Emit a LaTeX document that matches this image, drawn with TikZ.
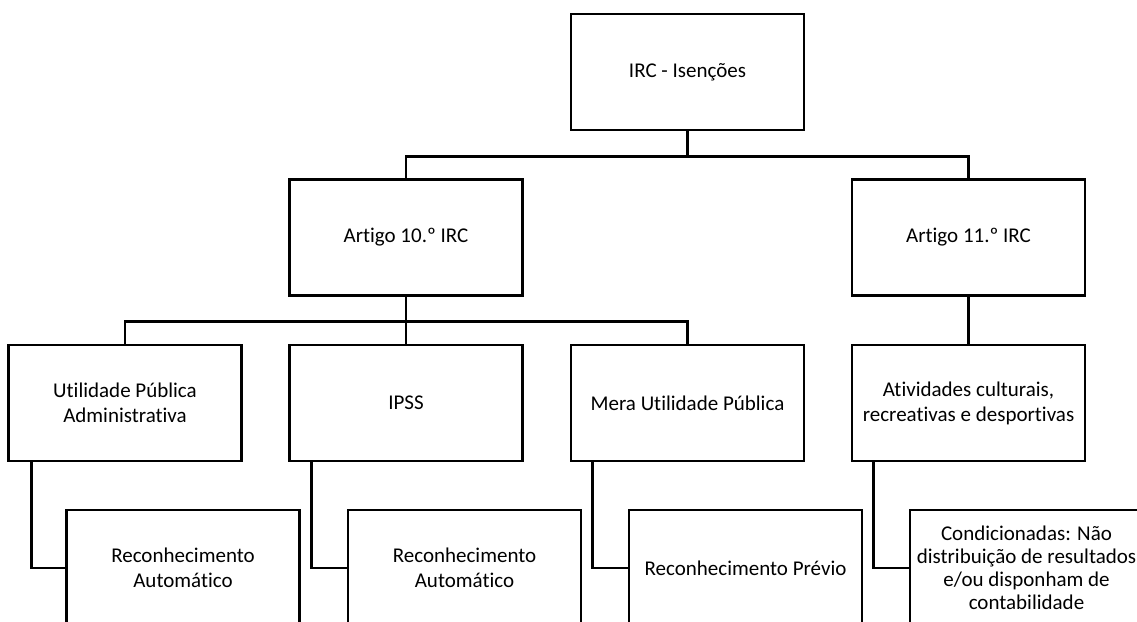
\documentclass[tikz,border=0pt]{standalone}
\usepackage{fontspec}
\setmainfont[Ligatures=NoCommon]{Carlito}
\begin{document}
\begin{tikzpicture}[x=1pt,y=-1pt,
  box/.style={draw=black,line width=2.8pt,fill=white,minimum width=233pt,minimum height=116pt,inner sep=2pt,align=center,font=\fontsize{21}{25}\selectfont},
  conn/.style={draw=black,line width=2.8pt}]
\useasboundingbox (0,0) rectangle (1137,621);
\clip (0,0) rectangle (1137,621);
\fill[white] (0,0) rectangle (1137,621);
\node[box] (top) at (687.5,72) {IRC - Isenções};
\node[box] (a10) at (406,237.5) {Artigo 10.º IRC};
\node[box] (a11) at (968.5,237.5) {Artigo 11.º IRC};
\node[box] (upa) at (125,403) {Utilidade Pública\\Administrativa};
\node[box] (ipss) at (406,403) {IPSS};
\node[box] (mera) at (687.5,403) {Mera Utilidade Pública};
\node[box] (ativ) at (968.5,403) {Atividades culturais,\\recreativas e desportivas};
\node[box] (r1) at (183,568) {Reconhecimento\\Automático};
\node[box] (r2) at (464.5,568) {Reconhecimento\\Automático};
\node[box] (r3) at (745.5,568) {Reconhecimento Prévio};
\node[box,font=\fontsize{21}{23}\selectfont] (r4) at (1026.5,568) {Condicionadas: Não\\distribuição de resultados\\e/ou disponham de\\contabilidade};
\draw[conn] (top.south) -- ++(0,25) -| (a10.north);
\draw[conn] (top.south) -- ++(0,25) -| (a11.north);
\draw[conn] (a10.south) -- (ipss.north);
\draw[conn] (a10.south) -- ++(0,24.5) -| (upa.north);
\draw[conn] (a10.south) -- ++(0,24.5) -| (mera.north);
\draw[conn] (a11.south) -- (ativ.north);
\draw[conn] ([xshift=24pt]upa.south west) |- (r1.west);
\draw[conn] ([xshift=23pt]ipss.south west) |- (r2.west);
\draw[conn] ([xshift=23pt]mera.south west) |- (r3.west);
\draw[conn] ([xshift=23pt]ativ.south west) |- (r4.west);
\end{tikzpicture}
\end{document}
